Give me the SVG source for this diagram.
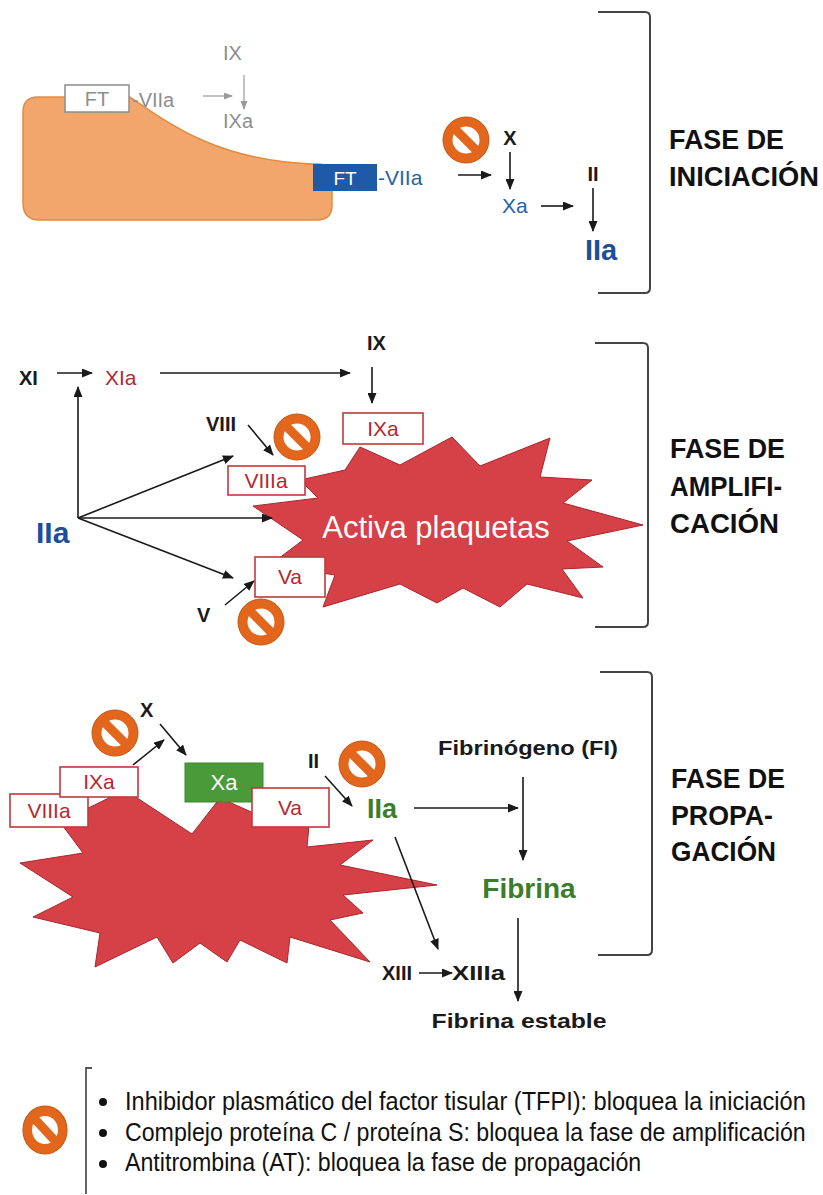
<svg xmlns="http://www.w3.org/2000/svg" width="823" height="1195" viewBox="0 0 823 1195">
  <defs>
    <style>
      text { font-family: "Liberation Sans", Arial, sans-serif; }
      .k { fill: #1a1a1a; font-weight: bold; font-size: 20px; }
      .gray { fill: #8e8e8e; font-size: 20px; }
      .blue { fill: #2563a8; font-size: 21px; }
      .red { fill: #b5282e; font-size: 21px; }
      .green { fill: #3b7d2b; font-weight: bold; }
      .phase { fill: #111; font-weight: bold; font-size: 28px; }
      .legend { fill: #111; font-size: 25px; }
      .box { fill: #fff; stroke: #c0393b; stroke-width: 1.6; }
      .burst { fill: #d64047; stroke: #a8262c; stroke-width: 1; }
      .bracket { fill: none; stroke: #444; stroke-width: 2; }
      .arr { fill: none; stroke: #1a1a1a; stroke-width: 1.6; marker-end: url(#ah); }
      .arrg { fill: none; stroke: #9a9a9a; stroke-width: 1.2; marker-end: url(#ahg); }
    </style>
    <marker id="ah" markerUnits="userSpaceOnUse" markerWidth="11" markerHeight="9" refX="10" refY="4.5" orient="auto">
      <path d="M0,0 L11,4.5 L0,9 z" fill="#1a1a1a"/>
    </marker>
    <marker id="ahg" markerUnits="userSpaceOnUse" markerWidth="9" markerHeight="7" refX="8" refY="3.5" orient="auto">
      <path d="M0,0 L9,3.5 L0,7 z" fill="#9a9a9a"/>
    </marker>
    <!-- prohibition sign used for the inhibitors -->
    <g id="stop">
      <circle r="23" fill="#e2661b" stroke="#c4540f" stroke-width="1"/>
      <circle r="13.5" fill="#fff"/>
      <rect x="-15" y="-4.5" width="30" height="9" fill="#e2661b" transform="rotate(45)"/>
    </g>
  </defs>

  <rect width="823" height="1195" fill="#fff"/>

  <!-- cell carrying tissue factor -->
  <g id="cell">
    <path d="M38,97 H130 C175,128 220,160 312,164 L318,164 Q332,164 332,178 V205 Q332,220 317,220 H40 Q23,220 23,203 V112 Q23,97 38,97 Z" fill="#f2a66b" stroke="#e48a3f" stroke-width="1.5"/>
  </g>

  <!-- platelet bursts -->
  <g id="burst-amplificacion">
    <polygon class="burst" points="360,447 400,465 452,437 480,466 550,438 540,477 592,480 563,503 643,525 567,541 603,567 562,569 583,598 527,584 500,607 463,588 437,603 400,584 323,607 335,575 270,565 303,540 253,506 318,498 300,480 345,470"/>
    <text x="436" y="538" text-anchor="middle" fill="#fff" font-size="31">Activa plaquetas</text>
  </g>
  <g id="burst-propagacion">
    <polygon class="burst" points="60,822 125,790 192,834 220,798 258,815 310,815 307,847 373,840 340,865 437,885 343,895 363,913 330,920 370,962 290,937 287,963 240,940 227,962 200,943 173,963 157,937 95,967 100,933 33,917 73,897 20,863 83,853"/>
  </g>

  <!-- connectors -->
  <g id="connectors">
    <!-- iniciación -->
    <line class="arrg" x1="203" y1="96" x2="232" y2="96"/>
    <line class="arrg" x1="244" y1="75" x2="244" y2="109"/>
    <line class="arr" x1="458" y1="175" x2="491" y2="175"/>
    <line class="arr" x1="510" y1="152" x2="510" y2="189"/>
    <line class="arr" x1="541" y1="206" x2="573" y2="206"/>
    <line class="arr" x1="593" y1="188" x2="593" y2="231"/>
    <!-- amplificación -->
    <line class="arr" x1="57" y1="373" x2="92" y2="373"/>
    <line class="arr" x1="160" y1="373" x2="350" y2="373"/>
    <line class="arr" x1="372" y1="367" x2="372" y2="403"/>
    <line class="arr" x1="248" y1="425" x2="273" y2="455"/>
    <line class="arr" x1="78" y1="518" x2="78" y2="387" stroke-width="2"/>
    <line class="arr" x1="78" y1="518" x2="233" y2="456" stroke-width="2"/>
    <line class="arr" x1="78" y1="518" x2="272" y2="518" stroke-width="2"/>
    <line class="arr" x1="78" y1="518" x2="233" y2="578" stroke-width="2"/>
    <line class="arr" x1="225" y1="605" x2="254" y2="581"/>
    <!-- propagación -->
    <line class="arr" x1="133" y1="765" x2="164" y2="740"/>
    <line class="arr" x1="160" y1="724" x2="186" y2="755"/>
    <line class="arr" x1="325" y1="776" x2="352" y2="806"/>
    <line class="arr" x1="414" y1="808" x2="518" y2="808"/>
    <line class="arr" x1="523" y1="777" x2="523" y2="860"/>
    <line class="arr" x1="518" y1="918" x2="518" y2="1001"/>
    <line class="arr" x1="395" y1="837" x2="438" y2="949"/>
    <line class="arr" x1="419" y1="973" x2="452" y2="973"/>
  </g>

  <!-- fase de iniciación -->
  <g id="ft-gray">
    <rect x="65" y="85" width="64" height="27" fill="#fff" stroke="#8c8c8c" stroke-width="1.5"/>
    <text x="97" y="106" text-anchor="middle" class="gray" font-size="19">FT</text>
    <text x="132" y="107" class="gray">-VIIa</text>
  </g>
  <g id="ix-gray"><text x="223" y="60" class="gray">IX</text></g>
  <g id="ixa-gray"><text x="223" y="128" class="gray">IXa</text></g>
  <g id="ft-blue">
    <rect x="313" y="164" width="64" height="27" fill="#1e5aa8"/>
    <text x="345" y="185" text-anchor="middle" fill="#fff" font-size="19">FT</text>
    <text x="378" y="185" class="blue">-VIIa</text>
  </g>
  <g id="x-ini"><text x="510" y="145" text-anchor="middle" class="k">X</text></g>
  <g id="xa-ini"><text x="502" y="213" class="blue" font-size="22">Xa</text></g>
  <g id="ii-ini"><text x="593" y="181" text-anchor="middle" class="k">II</text></g>
  <g id="iia-ini"><text x="585" y="260" fill="#1b4f9a" font-weight="bold" font-size="29">IIa</text></g>

  <!-- fase de amplificación -->
  <g id="xi"><text x="19" y="385" class="k" font-size="23">XI</text></g>
  <g id="xia"><text x="105" y="385" class="red" font-size="23">XIa</text></g>
  <g id="ix-amp"><text x="367" y="350" class="k" font-size="23">IX</text></g>
  <g id="ixa-amp">
    <rect class="box" x="343" y="413" width="80" height="31"/>
    <text x="383" y="436" text-anchor="middle" class="red">IXa</text>
  </g>
  <g id="viii"><text x="206" y="431" class="k" font-size="21">VIII</text></g>
  <g id="viiia-amp">
    <rect class="box" x="228" y="466" width="77" height="29"/>
    <text x="266" y="488" text-anchor="middle" class="red">VIIIa</text>
  </g>
  <g id="iia-amp"><text x="36" y="543" fill="#1b4f9a" font-weight="bold" font-size="30">IIa</text></g>
  <g id="va-amp">
    <rect class="box" x="255" y="557" width="70" height="40"/>
    <text x="290" y="584" text-anchor="middle" class="red" font-size="22">Va</text>
  </g>
  <g id="v"><text x="197" y="622" class="k" font-size="21">V</text></g>

  <!-- fase de propagación -->
  <g id="x-prop"><text x="140" y="717" class="k">X</text></g>
  <g id="viiia-prop">
    <rect class="box" x="10" y="794" width="78" height="33"/>
    <text x="49" y="818" text-anchor="middle" class="red">VIIIa</text>
  </g>
  <g id="ixa-prop">
    <rect class="box" x="60" y="767" width="78" height="30"/>
    <text x="99" y="789" text-anchor="middle" class="red" font-size="22">IXa</text>
  </g>
  <g id="xa-prop">
    <rect x="185" y="763" width="78" height="39" fill="#4a9a3a" stroke="#3d8530" stroke-width="1"/>
    <text x="224" y="790" text-anchor="middle" fill="#fff" font-size="22">Xa</text>
  </g>
  <g id="va-prop">
    <rect class="box" x="252" y="788" width="77" height="39"/>
    <text x="290" y="815" text-anchor="middle" class="red" font-size="22">Va</text>
  </g>
  <g id="ii-prop"><text x="308" y="768" class="k">II</text></g>
  <g id="iia-prop"><text x="367" y="818" class="green" font-size="27">IIa</text></g>
  <g id="fibrinogeno"><text x="528" y="755" text-anchor="middle" class="k" font-size="23" fill="#333" textLength="180" lengthAdjust="spacingAndGlyphs">Fibrinógeno (FI)</text></g>
  <g id="fibrina"><text x="529" y="898" text-anchor="middle" class="green" font-size="28">Fibrina</text></g>
  <g id="fibrina-estable"><text x="519" y="1028" text-anchor="middle" class="k" font-size="23" textLength="175" lengthAdjust="spacingAndGlyphs">Fibrina estable</text></g>
  <g id="xiii"><text x="382" y="980" class="k" font-size="21">XIII</text></g>
  <g id="xiiia"><text x="452" y="980" class="k" font-size="21" textLength="53" lengthAdjust="spacingAndGlyphs">XIIIa</text></g>

  <!-- inhibitors -->
  <g id="inhibitors">
    <use href="#stop" x="466" y="140"/>
    <use href="#stop" x="297" y="437"/>
    <use href="#stop" x="261" y="622"/>
    <use href="#stop" x="115" y="733"/>
    <use href="#stop" x="362" y="764"/>
  </g>

  <!-- phase brackets and titles -->
  <g id="fase-iniciacion">
    <path class="bracket" d="M598,12 H645 Q650,12 650,17 V288 Q650,293 645,293 H598"/>
    <text x="669" y="149" class="phase" textLength="115" lengthAdjust="spacingAndGlyphs">FASE DE</text>
    <text x="669" y="186" class="phase" textLength="150" lengthAdjust="spacingAndGlyphs">INICIACIÓN</text>
  </g>
  <g id="fase-amplificacion">
    <path class="bracket" d="M595,343 H643 Q648,343 648,348 V622 Q648,627 643,627 H595"/>
    <text x="670" y="458" class="phase" textLength="115" lengthAdjust="spacingAndGlyphs">FASE DE</text>
    <text x="670" y="496" class="phase" textLength="112" lengthAdjust="spacingAndGlyphs">AMPLIFI-</text>
    <text x="670" y="533" class="phase" textLength="109" lengthAdjust="spacingAndGlyphs">CACIÓN</text>
  </g>
  <g id="fase-propagacion">
    <path class="bracket" d="M600,672 H647 Q652,672 652,677 V950 Q652,955 647,955 H598"/>
    <text x="671" y="788" class="phase" textLength="114" lengthAdjust="spacingAndGlyphs">FASE DE</text>
    <text x="671" y="825" class="phase" textLength="102" lengthAdjust="spacingAndGlyphs">PROPA-</text>
    <text x="671" y="861" class="phase" textLength="105" lengthAdjust="spacingAndGlyphs">GACIÓN</text>
  </g>

  <!-- legend: narrow lettering, drawn horizontally compressed -->
  <g id="legend">
    <use href="#stop" transform="translate(45,1130) scale(0.96,1.04)"/>
    <path d="M92,1068 H86 V1194" fill="none" stroke="#555" stroke-width="1.8"/>
    <circle cx="103" cy="1102" r="4" fill="#111"/>
    <circle cx="103" cy="1133" r="4" fill="#111"/>
    <circle cx="103" cy="1164" r="4" fill="#111"/>
    <text transform="translate(125,1110) scale(0.875,1)" class="legend" textLength="778" lengthAdjust="spacingAndGlyphs">Inhibidor plasmático del factor tisular (TFPI): bloquea la iniciación</text>
    <text transform="translate(125,1141) scale(0.875,1)" class="legend" textLength="778" lengthAdjust="spacingAndGlyphs">Complejo proteína C / proteína S: bloquea la fase de amplificación</text>
    <text transform="translate(125,1171) scale(0.875,1)" class="legend" textLength="590" lengthAdjust="spacingAndGlyphs">Antitrombina (AT): bloquea la fase de propagación</text>
  </g>
</svg>
